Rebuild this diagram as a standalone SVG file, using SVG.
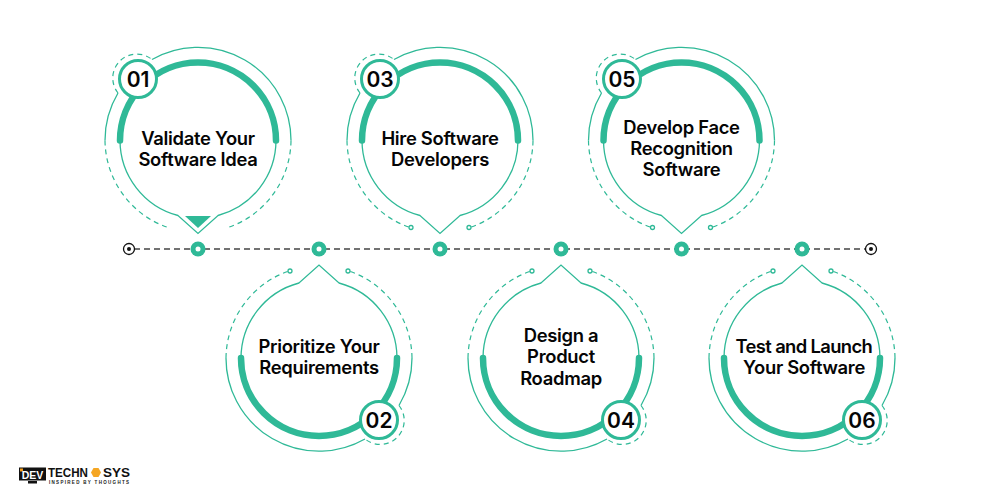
<svg xmlns="http://www.w3.org/2000/svg" width="1000" height="500" viewBox="0 0 1000 500">
<style>
.thin{fill:none;stroke:#2fb997;stroke-width:1.3}
.dash{fill:none;stroke:#2fb997;stroke-width:1.2;stroke-dasharray:5 4}
.thick{fill:none;stroke:#2fb997;stroke-width:6.5;stroke-linecap:round}
.badge{fill:#fff;stroke:#2fb997;stroke-width:3}
.lbl{font-family:"Inter","Liberation Sans",sans-serif;font-weight:600;font-size:18.4px;fill:#050505;text-anchor:middle;letter-spacing:-.3px}
.num{font-family:"Inter","Liberation Sans",sans-serif;font-weight:600;font-size:21px;fill:#050505;text-anchor:middle}
.line{fill:none;stroke:#444;stroke-width:1.3;stroke-dasharray:6 4}
.dot{fill:#2fb997}
.end{fill:#fff;stroke:#111;stroke-width:1.3}
.logo{font-family:"Liberation Sans",sans-serif;font-weight:700}
</style>
<defs>
<g id="shape">
<path class="thin" d="M-78 0A78 78 0 0 0-20 75L0 93 20 75A78 78 0 0 0 78 0"/>
<path class="thick" d="M-78 0A78 78 0 0 1 78 0"/>
<path class="thin" d="M-46-81A93 93 0 0 1 93 0M-80-47.500A93 93 0 0 0-93 0"/>
<path class="dash" d="M93 0A93 93 0 0 1 30 87M-93 0A93 93 0 0 0-30 87M-80-47.500A24 24 0 0 1-46-81"/>
</g>
<g id="ends"><circle class="thin" cx="-29" cy="87" r="2"/><circle class="thin" cx="29" cy="87" r="2"/></g>
<g id="stop"><circle class="dot" r="7.500"/><circle r="2.500" fill="#fff"/></g>
<g id="term"><circle class="end" r="5.500"/><circle r="2" fill="#111"/></g>
</defs>
<g id="connectors">
<path class="line" d="M134 249H866"/>
</g>
<g id="timeline">
<use href="#term" x="129" y="249"/><use href="#term" x="871" y="249"/>
<use href="#stop" x="198" y="249"/><use href="#stop" x="319" y="249"/><use href="#stop" x="440" y="249"/><use href="#stop" x="561" y="249"/><use href="#stop" x="681.500" y="249"/><use href="#stop" x="802" y="249"/>
</g>
<g id="node-01">
<use href="#shape" transform="translate(198 140.500)"/>
<path class="dot" d="M185 216H211L198 228Z"/>
<circle class="badge" cx="138" cy="79" r="18.500"/><text class="num" x="138" y="86.500">01</text>
<text class="lbl" x="198" y="144.500">Validate Your</text><text class="lbl" x="198" y="166">Software Idea</text>
</g>
<g id="node-02">
<use href="#shape" transform="translate(319 358) rotate(180)"/><use href="#ends" transform="translate(319 358) rotate(180)"/>
<circle class="badge" cx="379" cy="420" r="18.500"/><text class="num" x="379" y="427.500">02</text>
<text class="lbl" x="319" y="352.500">Prioritize Your</text><text class="lbl" x="319" y="374">Requirements</text>
</g>
<g id="node-03">
<use href="#shape" transform="translate(440 140.500)"/><use href="#ends" transform="translate(440 140.500)"/>
<circle class="badge" cx="380" cy="79" r="18.500"/><text class="num" x="380" y="86.500">03</text>
<text class="lbl" x="440" y="144.500">Hire Software</text><text class="lbl" x="440" y="166">Developers</text>
</g>
<g id="node-04">
<use href="#shape" transform="translate(561 358) rotate(180)"/><use href="#ends" transform="translate(561 358) rotate(180)"/>
<circle class="badge" cx="621" cy="420" r="18.500"/><text class="num" x="621" y="427.500">04</text>
<text class="lbl" x="561" y="341.500">Design a</text><text class="lbl" x="561" y="363">Product</text><text class="lbl" x="561" y="384.500">Roadmap</text>
</g>
<g id="node-05">
<use href="#shape" transform="translate(681.500 140.500)"/><use href="#ends" transform="translate(681.500 140.500)"/>
<circle class="badge" cx="622" cy="79" r="18.500"/><text class="num" x="622" y="86.500">05</text>
<text class="lbl" x="681.500" y="133.500">Develop Face</text><text class="lbl" x="681.500" y="155">Recognition</text><text class="lbl" x="681.500" y="176">Software</text>
</g>
<g id="node-06">
<use href="#shape" transform="translate(802 358) rotate(180)"/><use href="#ends" transform="translate(802 358) rotate(180)"/>
<circle class="badge" cx="862" cy="420" r="18.500"/><text class="num" x="862" y="427.500">06</text>
<text class="lbl" x="804" y="352.500" textLength="137">Test and Launch</text><text class="lbl" x="804" y="374">Your Software</text>
</g>
<g id="logo">
<rect x="19" y="467.500" width="27" height="13" fill="#111"/><rect x="28" y="481" width="9" height="2.500" fill="#111"/>
<rect x="20" y="468.500" width="3" height="3" fill="#f59e1b"/>
<text class="logo" x="32.500" y="478.500" font-size="10.500" fill="#fff" text-anchor="middle">DEV</text>
<text class="logo" x="48" y="476.500" font-size="12" fill="#111" textLength="40" lengthAdjust="spacingAndGlyphs">TECHN</text>
<path d="M93.500 468H98.500L101 472.500 98.500 477H93.500L91 472.500Z" fill="#f5a623"/>
<text class="logo" x="103" y="476.500" font-size="12" fill="#111" textLength="27" lengthAdjust="spacingAndGlyphs">SYS</text>
<text class="logo" x="49" y="484" font-size="4.500" fill="#222" textLength="80">INSPIRED BY THOUGHTS</text>
</g>
</svg>
